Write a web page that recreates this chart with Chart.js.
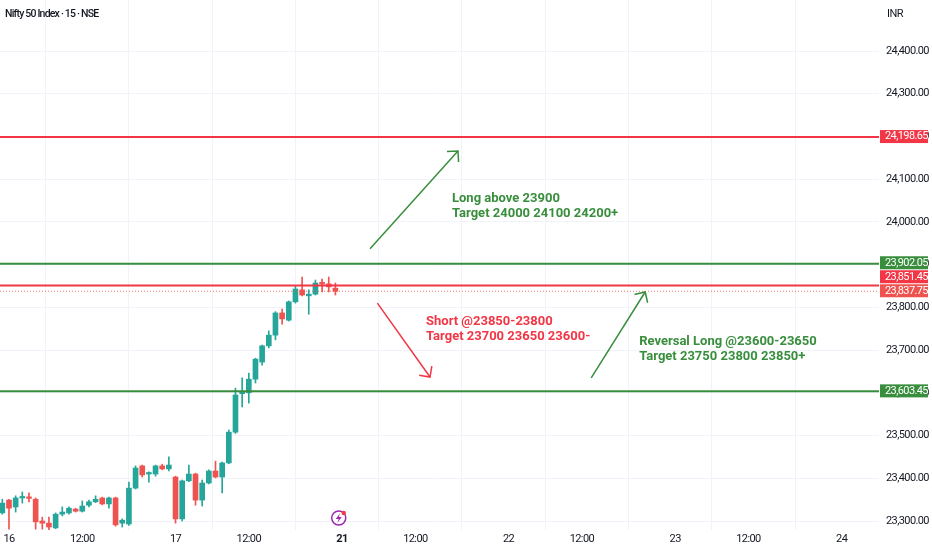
<!DOCTYPE html>
<html>
<head>
<meta charset="utf-8">
<script src="https://cdn.jsdelivr.net/npm/chart.js@4.4.1/dist/chart.umd.min.js"></script>
<style>
  html,body{margin:0;padding:0;background:#fff;}
  #wrap{width:932px;height:550px;position:relative;}
</style>
</head>
<body>
<div id="wrap"><canvas id="c" width="932" height="550"></canvas></div>
<script>
// ---- Data (15-minute bars; slot -1 is the last bar of the previous session) ----
const slots  = [-1,0,1,2,3,4,5,6,7,8,9,10,11,12,13,14,15,16,17,18,19,20,21,22,23,24,25,26,27,28,29,30,31,32,33,34,35,36,37,38,39,40,41,42,43,44,45,46,47,48,49];
const opens  = [23319,23349,23333,23354,23356,23351,23300,23295,23284,23316,23319,23328,23323,23337,23345,23354,23340,23354,23295,23293,23377,23429,23410,23410,23429,23422,23403,23305,23394,23410,23349,23389,23417,23403,23436,23508,23598,23600,23632,23672,23710,23735,23787,23770,23813,23841,23827,23831,23857,23855,23845];
const highs  = [23351,23351,23359,23368,23366,23354,23309,23309,23319,23333,23333,23330,23347,23349,23359,23356,23356,23356,23305,23391,23429,23431,23415,23431,23433,23450,23405,23396,23431,23412,23396,23420,23440,23438,23513,23611,23635,23646,23681,23712,23745,23790,23796,23815,23850,23871,23841,23864,23866,23871,23857];
const lows   = [23316,23281,23321,23342,23345,23281,23281,23280,23282,23312,23316,23321,23321,23333,23343,23338,23330,23288,23286,23290,23375,23403,23391,23405,23420,23417,23295,23300,23392,23337,23335,23387,23401,23366,23434,23505,23567,23576,23623,23665,23705,23724,23761,23768,23810,23827,23784,23829,23836,23836,23829];
const closes = [23342,23330,23354,23356,23353,23298,23295,23286,23316,23321,23330,23323,23335,23345,23351,23340,23354,23291,23302,23377,23424,23408,23412,23429,23422,23431,23305,23394,23410,23349,23389,23417,23403,23436,23508,23595,23600,23632,23679,23710,23735,23787,23773,23813,23843,23829,23831,23857,23855,23848,23837.75];

// x-axis tick slots and labels
const xTickSlots  = [0, 11, 25, 36, 50, 61, 75, 86, 100, 111, 125];
const xTickLabels = ['16','12:00','17','12:00','21','12:00','22','12:00','23','12:00','24'];
const yTicks = [23300,23400,23500,23600,23700,23800,23900,24000,24100,24200,24300,24400];

// horizontal levels
const levelValues = [24198.65, 23902.05, 23851.45, 23603.45];
const levelKinds  = ['red','green','red','green'];
const lastPrice = 23837.75;

// arrows in (slot, price)
const arrowStarts = [[54.2, 23937], [55.3, 23810], [87.4, 23635]];
const arrowEnds   = [[67.4, 24166], [63.2, 23637], [95.5, 23836]];
const arrowKinds  = ['green','red','green'];

// notes
const noteAnchors = [[66.5, 24054], [62.6, 23766], [94.6, 23719]];
const noteLines   = [
  ['Long above 23900','Target 24000 24100 24200+'],
  ['Short @23850-23800','Target 23700 23650 23600-'],
  ['Reversal Long @23600-23650','Target 23750 23800 23850+']
];
const noteKinds = ['green','red','green'];

// ---- styles ----
const COL = {
  up:'#26a69a', down:'#ef5350',
  green:'#388e3c', red:'#f23645',
  text:'#131722', grid:'#f0f3fa'
};
const FONT = 'Roboto, "Liberation Sans", sans-serif';
const X_MIN = -1.35, X_MAX = 130.6, Y_MIN = 23279, Y_MAX = 24519.4;

const candleColors = slots.map((s,i)=> closes[i] >= opens[i] ? COL.up : COL.down);

const datasets = [];
levelValues.forEach((v,i)=>{
  datasets.push({type:'line', data:[{x:X_MIN,y:v},{x:X_MAX,y:v}], borderColor:COL[levelKinds[i]],
    borderWidth:2, pointRadius:0, order:0});
});
datasets.push({type:'line', data:[{x:X_MIN,y:lastPrice},{x:X_MAX,y:lastPrice}], borderColor:'rgba(239,83,80,0.8)',
  borderWidth:1, borderDash:[1,2], pointRadius:0, order:1});
arrowStarts.forEach((s,i)=>{
  datasets.push({type:'line', data:[{x:s[0],y:s[1]},{x:arrowEnds[i][0],y:arrowEnds[i][1]}],
    borderColor:COL[arrowKinds[i]], borderWidth:1.5, pointRadius:0, order:0, _arrow:true});
});
datasets.push({type:'bar', data:slots.map((s,i)=>({x:s, y:[lows[i], highs[i]]})), backgroundColor:candleColors,
  barThickness:1, grouped:false, order:3});
datasets.push({type:'bar', data:slots.map((s,i)=>({x:s, y:[opens[i], closes[i]]})), backgroundColor:candleColors,
  barThickness:5, minBarLength:1.5, grouped:false, order:2});

const fmt = v => Number(v).toLocaleString('en-US',{minimumFractionDigits:2, maximumFractionDigits:2});

const overlay = {
  id:'overlay',
  beforeDraw(chart){ chart.ctx.letterSpacing = '-0.6px'; },
  afterDatasetsDraw(chart){
    const ctx = chart.ctx, xs = chart.scales.x, ys = chart.scales.y, ca = chart.chartArea;
    chart.data.datasets.forEach((ds,di)=>{
      if(!ds._arrow) return;
      const pts = chart.getDatasetMeta(di).data;
      const a = pts[0], b = pts[1];
      const ang = Math.atan2(b.y-a.y, b.x-a.x);
      const L = 11;
      ctx.save();
      ctx.strokeStyle = ds.borderColor; ctx.lineWidth = 1.5;
      ctx.beginPath();
      ctx.moveTo(b.x - L*Math.cos(ang - Math.PI/4), b.y - L*Math.sin(ang - Math.PI/4));
      ctx.lineTo(b.x, b.y);
      ctx.lineTo(b.x - L*Math.cos(ang + Math.PI/4), b.y - L*Math.sin(ang + Math.PI/4));
      ctx.stroke();
      ctx.restore();
    });
    ctx.save();
    ctx.letterSpacing = '0px';
    ctx.font = 'bold 13px ' + FONT;
    ctx.textBaseline = 'middle'; ctx.textAlign = 'left';
    noteAnchors.forEach((p,i)=>{
      const px = xs.getPixelForValue(p[0]), py = ys.getPixelForValue(p[1]);
      ctx.fillStyle = COL[noteKinds[i]];
      noteLines[i].forEach((t,j)=> ctx.fillText(t, px, py + j*15));
    });
    ctx.restore();

    ctx.save();
    const ix = xs.getPixelForValue(49.5), iy = ca.bottom - 12;
    ctx.strokeStyle = '#9c27b0'; ctx.lineWidth = 1.5;
    ctx.beginPath(); ctx.arc(ix, iy, 7, 0, Math.PI*2); ctx.stroke();
    ctx.fillStyle = '#9c27b0';
    ctx.beginPath();
    ctx.moveTo(ix+1.5, iy-5); ctx.lineTo(ix-3, iy+1); ctx.lineTo(ix, iy+1);
    ctx.lineTo(ix-1.5, iy+5); ctx.lineTo(ix+3, iy-1); ctx.lineTo(ix, iy-1); ctx.closePath(); ctx.fill();
    ctx.fillStyle = '#f23645';
    ctx.beginPath(); ctx.arc(ix+5, iy-5, 2.2, 0, Math.PI*2); ctx.fill();
    ctx.restore();
  },
  afterDraw(chart){
    const ctx = chart.ctx, ys = chart.scales.y, ca = chart.chartArea;
    const labels = levelValues.map((v,i)=>({v, c:COL[levelKinds[i]], y:ys.getPixelForValue(v)}));
    const last = {v:lastPrice, c:COL.down, y:ys.getPixelForValue(lastPrice)};
    const H = 14;
    const all = labels.concat([last]).sort((a,b)=>a.y-b.y);
    const li = all.indexOf(last);
    for(let i=li-1;i>=0;i--){ if(all[i].y > all[i+1].y - H) all[i].y = all[i+1].y - H; }
    for(let i=li+1;i<all.length;i++){ if(all[i].y < all[i-1].y + H) all[i].y = all[i-1].y + H; }
    ctx.save();
    ctx.letterSpacing = '-0.6px';
    ctx.font = '11px ' + FONT;
    ctx.textBaseline = 'middle'; ctx.textAlign = 'left';
    all.forEach(l=>{
      ctx.fillStyle = l.c;
      ctx.fillRect(ca.right + 1, l.y - H/2, 48, H - 1);
      ctx.fillStyle = '#ffffff';
      ctx.fillText(fmt(l.v), ca.right + 6, l.y - 0.5);
    });
    ctx.fillStyle = COL.text;
    ctx.letterSpacing = '-0.8px';
    ctx.font = '500 10.5px ' + FONT;
    ctx.fillText('Nifty 50 Index · 15 · NSE', 5, 14);
    ctx.letterSpacing = '-0.6px';
    ctx.font = '11px ' + FONT;
    ctx.fillText('INR', ca.right + 8, 14);
    ctx.restore();
  }
};

new Chart(document.getElementById('c'), {
  data:{datasets},
  options:{
    responsive:false, animation:false, events:[],
    layout:{padding:0},
    plugins:{legend:{display:false}, tooltip:{enabled:false}},
    scales:{
      x:{
        type:'linear', min:X_MIN, max:X_MAX, offset:false,
        afterBuildTicks(s){ s.ticks = xTickSlots.map(v=>({value:v})); },
        afterFit(s){ s.height = 20; s.paddingLeft = 0; s.paddingRight = 0; },
        grid:{color:COL.grid, drawTicks:false},
        border:{display:false},
        ticks:{
          padding:3, maxRotation:0, autoSkip:false,
          color:COL.text,
          font:(c)=>({family:FONT, size:11, weight: (c.tick && xTickLabels[xTickSlots.indexOf(c.tick.value)]==='21') ? 'bold' : 'normal'}),
          callback:(v)=>{ const k = xTickSlots.indexOf(v); return k>=0 ? xTickLabels[k] : ''; }
        }
      },
      y:{
        type:'linear', position:'right', min:Y_MIN, max:Y_MAX,
        afterBuildTicks(s){ s.ticks = yTicks.map(v=>({value:v})); },
        afterFit(s){ s.width = 53; s.paddingTop = 0; s.paddingBottom = 0; },
        grid:{color:COL.grid, drawTicks:false},
        border:{display:false},
        ticks:{
          padding:7, color:COL.text,
          font:{family:FONT, size:11},
          callback:(v)=> fmt(v)
        }
      }
    }
  },
  plugins:[overlay]
});
</script>
</body>
</html>
